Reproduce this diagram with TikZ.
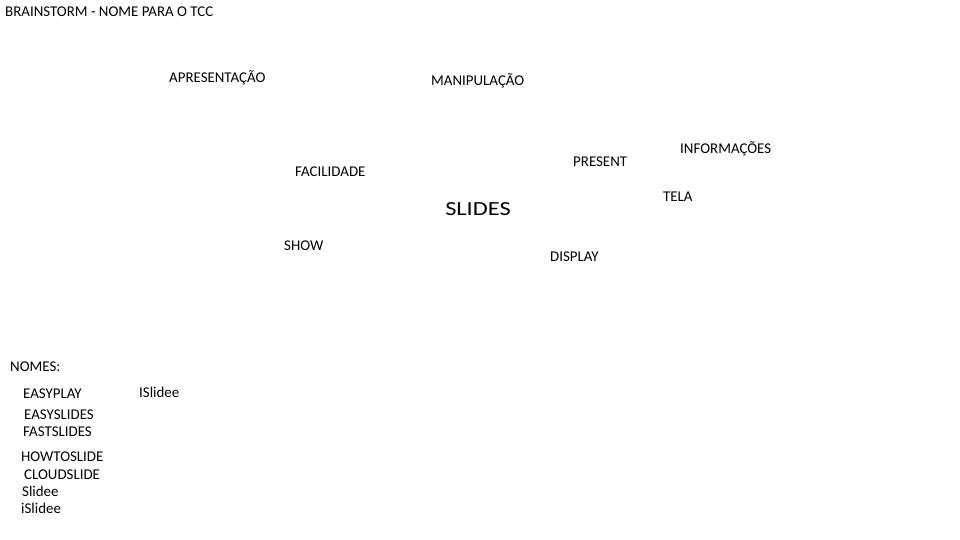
\documentclass[tikz,border=0pt]{standalone}
\usepackage{fontspec}
\setmainfont{Carlito}
\begin{document}
\begin{tikzpicture}[x=1pt,y=-1pt,
  lbl/.style={anchor=base west,inner sep=0pt,font=\fontsize{14.9}{17}\selectfont,text=black},
  big/.style={anchor=base west,inner sep=0pt,font=\fontsize{20}{22}\selectfont,text=black,xscale=1.22,transform shape}]
\useasboundingbox[fill=white] (0,0) rectangle (960,540);
\node[lbl] (title) at (5,17) {BRAINSTORM - NOME PARA O TCC};
\node[lbl] (apres) at (169,83) {APRESENTAÇÃO};
\node[lbl] (manip) at (431,86) {MANIPULAÇÃO};
\node[lbl] (facil) at (295,176) {FACILIDADE};
\node[lbl] (present) at (573,167) {PRESENT};
\node[lbl] (info) at (680,154) {INFORMAÇÕES};
\node[lbl] (tela) at (663,201) {TELA};
\node[big] (slides) at (445,215) {SLIDES};
\node[lbl] (show) at (284,250) {SHOW};
\node[lbl] (display) at (550,261) {DISPLAY};
\node[lbl] (nomes) at (10,371) {NOMES:};
\node[lbl] (n1) at (23,398) {EASYPLAY};
\node[lbl] (n2) at (139,397) {ISlidee};
\node[lbl] (n3) at (24,419) {EASYSLIDES};
\node[lbl] (n4) at (23,436) {FASTSLIDES};
\node[lbl] (n5) at (21,461) {HOWTOSLIDE};
\node[lbl] (n6) at (24,479) {CLOUDSLIDE};
\node[lbl] (n7) at (22,496) {Slidee};
\node[lbl] (n8) at (21,513) {iSlidee};
\end{tikzpicture}
\end{document}
